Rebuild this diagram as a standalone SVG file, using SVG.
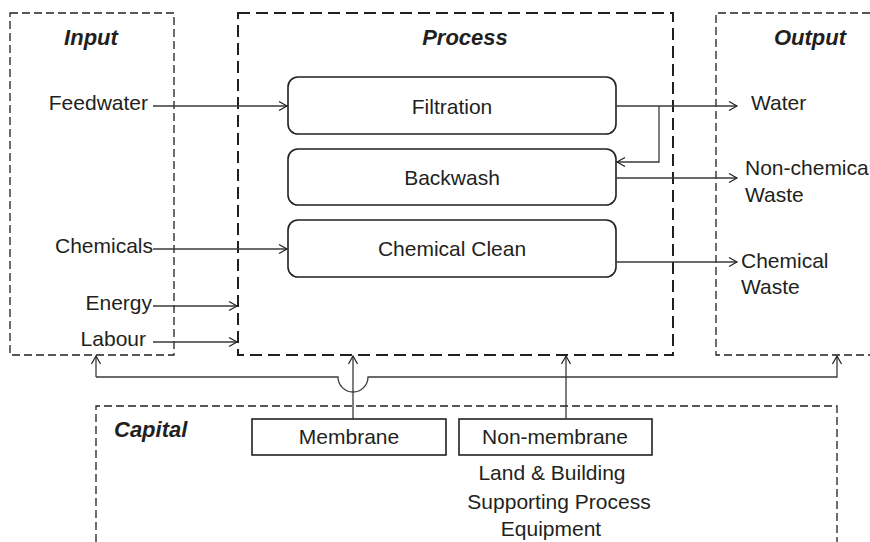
<svg xmlns="http://www.w3.org/2000/svg" width="870" height="542" viewBox="0 0 870 542">
<style>
text{font-family:"Liberation Sans",Arial,sans-serif;font-size:21px;fill:#231f20}
.h{font-weight:bold;font-style:italic;font-size:22px}
.thin{fill:none;stroke:#231f20;stroke-width:1.3;stroke-dasharray:8 4}
.thick{fill:none;stroke:#231f20;stroke-width:2;stroke-dasharray:12 6}
.node{fill:#fff;stroke:#231f20;stroke-width:1.6}
.c{fill:none;stroke:#3a3a3a;stroke-width:1.3}
</style>
<defs>
<marker id="a" markerWidth="12" markerHeight="12" refX="10" refY="6" orient="auto" markerUnits="userSpaceOnUse">
<path d="M2,1.5 L10,6 L2,10.5" fill="none" stroke="#231f20" stroke-width="1.2"/>
</marker>
</defs>
<g id="input">
<rect class="thin" x="10" y="13" width="164" height="342"/>
<text class="h" x="91" y="45" text-anchor="middle">Input</text>
<text x="148" y="110" text-anchor="end">Feedwater</text>
<text x="153" y="253" text-anchor="end">Chemicals</text>
<text x="152" y="310" text-anchor="end">Energy</text>
<text x="146" y="346" text-anchor="end">Labour</text>
</g>
<g id="process">
<rect class="thick" x="238" y="13" width="435" height="342"/>
<text class="h" x="465" y="45" text-anchor="middle">Process</text>
</g>
<g id="output">
<path class="thin" d="M870,13 H716 V355 H870"/>
<text class="h" x="810" y="45" text-anchor="middle">Output</text>
<text x="751" y="110">Water</text>
<text x="745" y="175">Non-chemical</text>
<text x="745" y="202">Waste</text>
<text x="741" y="268">Chemical</text>
<text x="741" y="294">Waste</text>
</g>
<g id="capital">
<path class="thin" d="M96,542 V406 H837 V542"/>
<text class="h" x="114" y="437">Capital</text>
</g>
<g id="filtration">
<rect class="node" x="288" y="77" width="328" height="57" rx="10"/>
<text x="452" y="114" text-anchor="middle">Filtration</text>
</g>
<g id="backwash">
<rect class="node" x="288" y="149" width="328" height="56" rx="10"/>
<text x="452" y="185" text-anchor="middle">Backwash</text>
</g>
<g id="chemical-clean">
<rect class="node" x="288" y="220" width="328" height="57" rx="10"/>
<text x="452" y="256" text-anchor="middle">Chemical Clean</text>
</g>
<g id="membrane">
<rect class="node" x="252" y="419" width="194" height="36"/>
<text x="349" y="444" text-anchor="middle">Membrane</text>
</g>
<g id="non-membrane">
<rect class="node" x="459" y="419" width="193" height="36"/>
<text x="555" y="444" text-anchor="middle">Non-membrane</text>
<text x="552" y="480" text-anchor="middle">Land &amp; Building</text>
<text x="559" y="509" text-anchor="middle">Supporting Process</text>
<text x="551" y="536" text-anchor="middle">Equipment</text>
</g>
<g id="connectors">
<path class="c" d="M153,106 H287" marker-end="url(#a)"/>
<path class="c" d="M153,249 H287" marker-end="url(#a)"/>
<path class="c" d="M153,306 H237" marker-end="url(#a)"/>
<path class="c" d="M153,342 H237" marker-end="url(#a)"/>
<path class="c" d="M616,106 H737" marker-end="url(#a)"/>
<path class="c" d="M659,106 V162 H617" marker-end="url(#a)"/>
<path class="c" d="M616,178 H737" marker-end="url(#a)"/>
<path class="c" d="M616,262 H737" marker-end="url(#a)"/>
<path class="c" d="M96,377 V356" marker-end="url(#a)"/>
<path class="c" d="M96,377 H338 A15,15 0 0 0 368,377 H837 V356" marker-end="url(#a)"/>
<path class="c" d="M353,419 V356" marker-end="url(#a)"/>
<path class="c" d="M566,419 V356" marker-end="url(#a)"/>
</g>
</svg>
